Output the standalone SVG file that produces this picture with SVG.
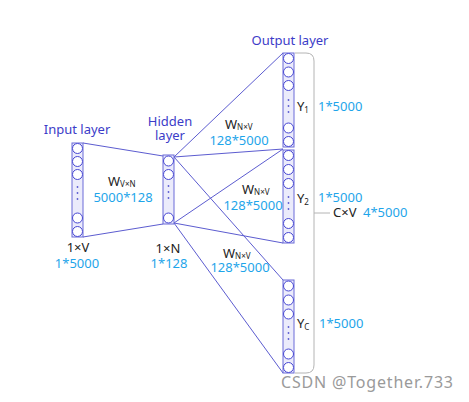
<svg xmlns="http://www.w3.org/2000/svg" width="469" height="402" viewBox="0 0 469 402">
<defs>
<style>
.col{fill:#ebebfb;stroke:#6a6ad8;stroke-width:1}
.n{fill:#fff;stroke:#4646d2;stroke-width:1}
.d{fill:#5a5ad0}
.ln{stroke:#5c5cd0;stroke-width:1;fill:none}
.br{stroke:#b4b4b4;stroke-width:1;fill:none}
text{font-family:"Noto Sans","Open Sans","DejaVu Sans",sans-serif;font-size:13px}
.bl{fill:#3c3cc8}
.cy{fill:#1ea5ea}
.bk{fill:#222}
.sub{font-size:8px}
.wm{fill:#9a9a9a;font-size:16px}
</style>
</defs>
<rect width="469" height="402" fill="#fff"/>
<g id="connectors">
<line class="ln" x1="83" y1="143" x2="163" y2="156"/>
<line class="ln" x1="83" y1="237" x2="163" y2="224"/>
<line class="ln" x1="174" y1="157" x2="283" y2="53"/>
<line class="ln" x1="174" y1="157" x2="283" y2="149"/>
<line class="ln" x1="174" y1="157" x2="283" y2="280"/>
<line class="ln" x1="174" y1="223" x2="283" y2="149"/>
<line class="ln" x1="174" y1="223" x2="283" y2="243"/>
<line class="ln" x1="174" y1="223" x2="283" y2="373"/>
<path class="br" d="M295,53 H306 Q314,53 314,61 V365 Q314,373 306,373 H295"/>
<line class="br" x1="314" y1="213" x2="330" y2="213"/>
</g>
<g id="input">
<rect class="col" x="72" y="143" width="11" height="94"/>
<circle class="n" cx="77.5" cy="148.5" r="5"/>
<circle class="n" cx="77.5" cy="161.5" r="5"/>
<circle class="n" cx="77.5" cy="174.5" r="5"/>
<circle class="d" cx="77.5" cy="187" r="0.9"/>
<circle class="d" cx="77.5" cy="193" r="0.9"/>
<circle class="d" cx="77.5" cy="199" r="0.9"/>
<circle class="n" cx="77.5" cy="218" r="5"/>
<circle class="n" cx="77.5" cy="231.5" r="5"/>
<text class="bl" x="77" y="134" text-anchor="middle">Input layer</text>
<text class="bk" x="78" y="252" text-anchor="middle">1×V</text>
<text class="cy" x="77" y="267.5" text-anchor="middle">1*5000</text>
</g>
<g id="hidden">
<rect class="col" x="163" y="155" width="11" height="69"/>
<circle class="n" cx="168.5" cy="161" r="5"/>
<circle class="n" cx="168.5" cy="174.5" r="5"/>
<circle class="d" cx="168.5" cy="186" r="0.9"/>
<circle class="d" cx="168.5" cy="192" r="0.9"/>
<circle class="d" cx="168.5" cy="198" r="0.9"/>
<circle class="n" cx="168.5" cy="218" r="5"/>
<text class="bl" x="170" y="125.5" text-anchor="middle">Hidden</text>
<text class="bl" x="170" y="140" text-anchor="middle">layer</text>
<text class="bk" x="168" y="252.5" text-anchor="middle">1×N</text>
<text class="cy" x="169" y="267.5" text-anchor="middle">1*128</text>
</g>
<g id="w1">
<text class="bk" x="108" y="186">W<tspan class="sub" dy="1">V×N</tspan></text>
<text class="cy" x="123" y="202" text-anchor="middle">5000*128</text>
</g>
<g id="out1">
<rect class="col" x="283" y="53" width="11" height="94"/>
<circle class="n" cx="288.5" cy="58.5" r="5"/>
<circle class="n" cx="288.5" cy="72" r="5"/>
<circle class="n" cx="288.5" cy="85.5" r="5"/>
<circle class="d" cx="288.5" cy="100" r="0.9"/>
<circle class="d" cx="288.5" cy="106" r="0.9"/>
<circle class="d" cx="288.5" cy="112" r="0.9"/>
<circle class="n" cx="288.5" cy="128" r="5"/>
<circle class="n" cx="288.5" cy="141.5" r="5"/>
<text class="bl" x="290" y="45" text-anchor="middle">Output layer</text>
<text class="bk" x="297" y="111">Y<tspan class="sub" dy="2">1</tspan></text>
<text class="cy" x="318" y="111">1*5000</text>
<text class="bk" x="225" y="129">W<tspan class="sub" dy="1">N×V</tspan></text>
<text class="cy" x="239" y="145" text-anchor="middle">128*5000</text>
</g>
<g id="out2">
<rect class="col" x="283" y="150" width="11" height="93"/>
<circle class="n" cx="288.5" cy="155.5" r="5"/>
<circle class="n" cx="288.5" cy="169.5" r="5"/>
<circle class="n" cx="288.5" cy="183.5" r="5"/>
<circle class="d" cx="288.5" cy="197" r="0.9"/>
<circle class="d" cx="288.5" cy="203" r="0.9"/>
<circle class="d" cx="288.5" cy="209" r="0.9"/>
<circle class="n" cx="288.5" cy="223.5" r="5"/>
<circle class="n" cx="288.5" cy="237.5" r="5"/>
<text class="bk" x="297" y="203">Y<tspan class="sub" dy="2">2</tspan></text>
<text class="cy" x="318" y="202">1*5000</text>
<text class="bk" x="242" y="194">W<tspan class="sub" dy="1">N×V</tspan></text>
<text class="cy" x="253" y="210" text-anchor="middle">128*5000</text>
</g>
<g id="out3">
<rect class="col" x="283" y="280" width="11" height="93"/>
<circle class="n" cx="288.5" cy="286" r="5"/>
<circle class="n" cx="288.5" cy="300" r="5"/>
<circle class="n" cx="288.5" cy="314" r="5"/>
<circle class="d" cx="288.5" cy="327" r="0.9"/>
<circle class="d" cx="288.5" cy="333" r="0.9"/>
<circle class="d" cx="288.5" cy="339" r="0.9"/>
<circle class="n" cx="288.5" cy="354" r="5"/>
<circle class="n" cx="288.5" cy="367.5" r="5"/>
<text class="bk" x="297" y="328">Y<tspan class="sub" dy="2">C</tspan></text>
<text class="cy" x="319" y="328">1*5000</text>
<text class="bk" x="223" y="258">W<tspan class="sub" dy="1">N×V</tspan></text>
<text class="cy" x="240" y="272" text-anchor="middle">128*5000</text>
</g>
<g id="total">
<text class="bk" x="333" y="217">C×V</text>
<text class="cy" x="363" y="217">4*5000</text>
</g>
<text class="wm" x="281" y="388" textLength="172" lengthAdjust="spacing">CSDN @Together.733</text>
</svg>
